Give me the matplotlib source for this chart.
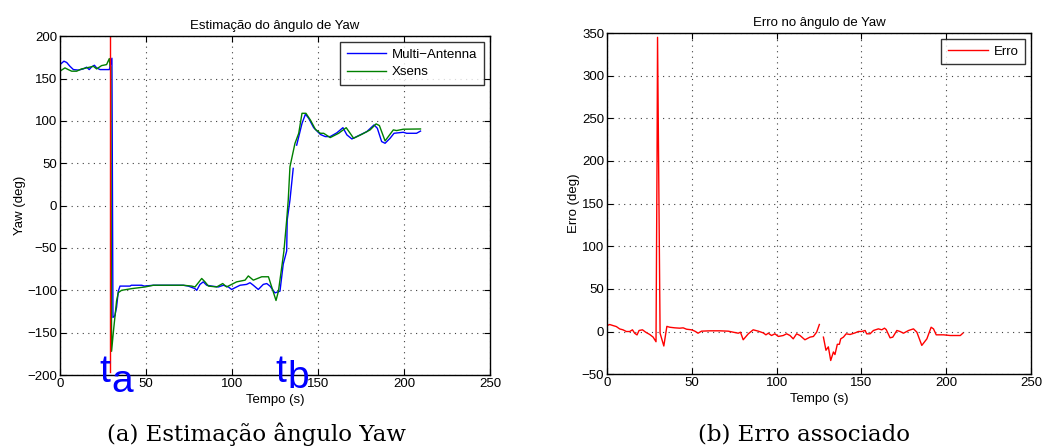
import numpy as np
import matplotlib.pyplot as plt

plt.rcParams['font.family'] = ['Liberation Sans', 'DejaVu Sans']

# Yaw estimates (deg) over time (s)
t_multi = [0, 2.3, 3.9, 5.8, 7.8, 10.7, 13.6, 15.5, 17, 18.4, 20, 21.3, 23.3, 28.7, 30.2,
           30.8, 31.9, 32.9, 33.9, 34.9, 40.7, 41.5, 47.5, 49, 54.3, 71.7, 74.6, 78.5, 79.5,
           81.4, 83.3, 85.3, 88.2, 92.1, 95, 97.9, 99.8, 101.7, 104.7, 108.5, 110.5, 112.4,
           115.3, 118.2, 120.2, 122.1, 125, 127.9, 129.8, 131.8, 132.1, 133.7, 135.6, 136.5,
           137.6, 140.7, 142.7, 144.6, 147.5, 151.4, 154.2, 157.1, 161, 164.5, 166.8, 169.7,
           174.5, 178.4, 182.6, 184.5, 187, 189, 191.9, 194.2, 199.6, 201.5, 207.3, 209.6]
yaw_multi = [166.5, 170.5, 169, 164.5, 160.6, 160, 161.4, 163.4, 160.6, 163.8, 165.7, 162.6,
             160.6, 160.6, 174, -132, -130, -120, -101, -95, -95, -94, -94, -95, -94, -94, -95,
             -98, -100, -93, -90, -94, -95, -96, -94, -96, -99, -97, -94, -93, -91, -94, -99,
             -93, -92, -95, -103, -101, -69, -53.5, -17, 6.5, 44, np.nan, 71.4, 97, 108, 103, 92,
             84, 81.5, 81.5, 86, 92, 83.5, 78.7, 83.5, 87.4, 95.3, 91.3, 75.6, 73.6, 79.5, 85.4,
             86.6, 85.4, 85.4, 88]

t_xsens = [0, 2.9, 4.8, 6.8, 9.7, 12.6, 15.5, 19.4, 21.3, 24.2, 27.1, 28.7, 29.1, 29.5, 30,
           31.1, 32.9, 33.9, 35.8, 41.7, 49.5, 54.3, 71.7, 76.6, 78.5, 82.4, 84.3, 86.3, 91.1,
           94.6, 96.9, 99.8, 102.7, 107.6, 109.5, 112.4, 117.3, 121.2, 125.6, 127, 128.9, 130.2,
           131.8, 132.7, 133.7, 136.6, 138.8, 140.7, 143, 145.6, 148.5, 151.4, 153.3, 157.1,
           162, 166.4, 168.7, 170.7, 175.5, 180.3, 183.8, 185.7, 189, 193.8, 195.7, 199.6, 209.6]
yaw_xsens = [158.7, 162.6, 160.6, 158.7, 158.7, 161.4, 162.6, 164.5, 161.4, 165.3, 166.5, 173.6,
             164.5, 164, -172, -148, -112.6, -102.8, -100, -98, -96, -94, -94, -95, -96, -86, -90,
             -95, -96, -92, -96, -93, -90, -88, -83, -88, -84, -84, -112, -101, -73, -53.5, -17,
             6.5, 45.8, 73.4, 85.4, 109, 109, 101, 90, 85.4, 85.4, 80.3, 85.4, 92, 85.4, 79.5,
             84.2, 89.4, 96.5, 94.5, 76.4, 89.4, 88.6, 90.2, 90.5]

# Instants marked on the yaw plot
t_a = 29.3
t_b = 125.0

# Yaw error (deg)
t_err = [0, 1.6, 3.5, 5.5, 7.5, 9.4, 11.4, 13.4, 15, 16.3, 17.7, 18.9, 20.9, 22.8, 25.2, 27.2,
         28.9, 29.5, 29.8, 31.3, 33.5, 35.3, 37, 40, 42.9, 44.9, 46.9, 49.8, 51.8, 53.7, 55.7,
         60.6, 66.5, 71.5, 74.4, 77.4, 78.7, 80.3, 83.3, 86.2, 89.2, 92.1, 93.7, 95.1, 97, 99,
         101, 103.9, 105.9, 107.9, 109.8, 111.8, 113.8, 116.7, 119.7, 121.7, 123.6, 125.2, 126.4,
         127.6, 129.1, 130.5, 131.9, 133.5, 134.4, 135.8, 137, 137.8, 139.4, 141, 143.3, 146.3,
         148.2, 150.2, 152.2, 153.1, 155.1, 157.1, 160, 162, 163.6, 164.6, 166.9, 168.5, 170.9,
         172.8, 174.8, 177.8, 180.7, 182.7, 185.6, 188.6, 191.1, 192.5, 194.1, 198.4, 202.4,
         206.3, 208.3, 209.8]
err = [7, 8.2, 7, 5.8, 3, 2, 0, 0, 2, -2, -4, 1.2, 2, -0.8, -3.5, -6.6, -12, 200, 345, -2, -17,
       6, 5, 4.3, 3.9, 4.3, 2.7, 2, 0.4, -2, 0.4, 0.8, 0.8, 0.4, -0.8, -2, -0.8, -9.7, -2.7, 2,
       0.4, -1.6, -3.9, -2, -4.7, -2.7, -5.8, -4.7, -2.7, -4.7, -8.6, -2.7, -4.7, -9.7, -6.6,
       -5.8, -0.8, 8.2, np.nan, -6.6, -22, -18, -34, -24, -27, -15, -15, -8.6, -6.6, -2.7, -3.5,
       -1.6, 0, 0, 1.2, -2.7, -2.7, 1.2, 3.1, 2, 3.9, 2.3, -7.4, -6.6, 1.2, 0, -2, 1.2, 3.1, -0.8,
       -16.3, -8.6, 5, 3.1, -3.9, -3.9, -4.7, -4.7, -4.7, -2]

fs = 9.5


def style_axes(ax):
	ax.grid(True, linestyle=(0, (1, 4)), color='0.25', linewidth=0.8)
	ax.tick_params(direction='in', top=True, right=True, length=4, labelsize=fs, pad=2)
	for s in ax.spines.values():
		s.set_linewidth(1.0)


def add_legend(ax):
	leg = ax.legend(loc='upper right', fontsize=fs, fancybox=False, edgecolor='k',
		borderaxespad=0.45, handlelength=3.0, handletextpad=0.45, borderpad=0.5,
		labelspacing=0.4)
	leg.get_frame().set_linewidth(1.0)


fig = plt.figure(figsize=(10.54, 4.47), dpi=100)

# Yaw estimation
ax1 = fig.add_axes([0.0569, 0.161, 0.408, 0.758])
ax1.plot(t_multi, yaw_multi, color='b', lw=1.0, label='Multi\u2212Antenna')
ax1.plot(t_xsens, yaw_xsens, color=(0, 0.5, 0), lw=1.0, label='Xsens')
ax1.plot([t_a, t_a], [-197, 200], color='r', lw=1.0)
ax1.set_xlim(0, 250)
ax1.set_ylim(-200, 200)
ax1.set_xticks(np.arange(0, 251, 50))
ax1.set_yticks(np.arange(-200, 201, 50))
style_axes(ax1)
ax1.set_title('Estimação do ângulo de Yaw', fontsize=fs, pad=5)
ax1.set_xlabel('Tempo (s)', fontsize=fs, labelpad=3)
ax1.set_ylabel('Yaw (deg)', fontsize=fs, labelpad=1)
add_legend(ax1)

# t_a / t_b labels under the axis
ax1.text(t_a - 6.6, -208, 't', color='b', fontsize=28, clip_on=False)
ax1.text(t_a + 0.4, -220, 'a', color='b', fontsize=28, clip_on=False)
ax1.text(t_b, -208, 't', color='b', fontsize=28, clip_on=False)
ax1.text(t_b + 7.0, -215, 'b', color='b', fontsize=28, clip_on=False)

# Error
ax2 = fig.add_axes([0.5759, 0.163, 0.4023, 0.763])
ax2.plot(t_err, err, color='r', lw=1.0, label='Erro')
ax2.set_xlim(0, 250)
ax2.set_ylim(-50, 350)
ax2.set_xticks(np.arange(0, 251, 50))
ax2.set_yticks(np.arange(-50, 351, 50))
style_axes(ax2)
ax2.set_title('Erro no ângulo de Yaw', fontsize=fs, pad=5)
ax2.set_xlabel('Tempo (s)', fontsize=fs, labelpad=3)
ax2.set_ylabel('Erro (deg)', fontsize=fs, labelpad=1)
add_legend(ax2)

# Subfigure captions
fig.text(256.7 / 1054, 1 - 434 / 447, '(a) Estimação ângulo Yaw', family='DejaVu Serif',
	fontsize=16.5, ha='center', va='center')
fig.text(803.5 / 1054, 1 - 434 / 447, '(b) Erro associado', family='DejaVu Serif',
	fontsize=16.5, ha='center', va='center')

fig.savefig('out.png', dpi=100)
